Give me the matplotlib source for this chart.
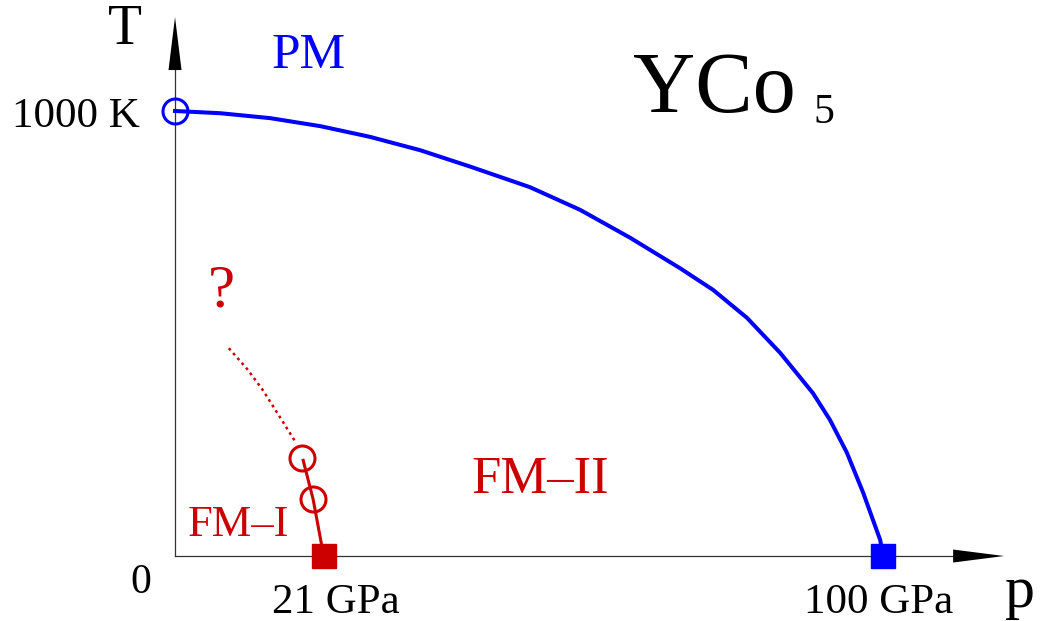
import matplotlib
matplotlib.use('Agg')
import matplotlib.pyplot as plt

plt.rcParams['font.family'] = ['Liberation Serif', 'DejaVu Serif']

BLUE = '#0000ff'
RED = '#cc0000'

# Curie line T_C(p) of the high-temperature ferromagnet (p in GPa, T in K)
tc_p = [0, 6.4, 13.4, 20.5, 27.5, 34.6, 41.7, 50.1, 57.2, 64.3, 71.3, 76.0,
        80.8, 85.5, 90.1, 92.5, 94.9, 97.2, 99.6, 100]
tc_T = [1000, 995, 984, 966, 942, 912, 875, 829, 778, 715, 647, 598,
        535, 456, 366, 306, 232, 142, 36, 0]

# FM-I / FM-II boundary: computed points and zero-temperature transition
fm_p = [17.9, 19.5]
fm_T = [220, 128]
fm_line_p = [18.1, 19.5, 21]
fm_line_T = [215, 128, 0]

# speculative continuation of the boundary
guess_p = [7.6, 10.2, 12.4, 14.9, 17.1]
guess_T = [467, 420, 373, 310, 254]

p_crit = [21, 100]
tc_zero = 1000

fig = plt.figure(figsize=(10.48, 6.21), dpi=100)
ax = fig.add_axes([0, 0, 1, 1])
ax.set_xlim(-24.72, 123.3)
ax.set_ylim(-146, 1249.4)
ax.set_axis_off()

# axes with arrow heads
ax.plot([0, 110], [0, 0], color='#333333', lw=0.9, zorder=1)
ax.plot([0, 0], [0, 1095], color='#333333', lw=0.9, zorder=1)
ax.fill([109.9, 117.1, 109.9], [-14.6, 0, 14.6], color='black', lw=0, zorder=2)
ax.fill([-0.92, 0, 0.92], [1092, 1211, 1092], color='black', lw=0, zorder=2)

# Curie line
ax.plot(tc_p, tc_T, color=BLUE, lw=2.9, zorder=3, solid_joinstyle='round')
ax.plot([0], [tc_zero], 'o', ms=18, mfc='none', mec=BLUE, mew=2.2, zorder=4)
ax.plot([p_crit[1]], [0], 's', ms=17, color=BLUE, zorder=5)

# FM-I / FM-II transition
ax.plot(guess_p, guess_T, color=RED, lw=1.8, ls=(0, (1.1, 1.5)), zorder=3)
ax.plot(fm_line_p, fm_line_T, color=RED, lw=2.2, zorder=3)
ax.plot(fm_p, fm_T, 'o', ms=18, mfc='none', mec=RED, mew=2.2, zorder=4)
ax.plot([p_crit[0]], [0], 's', ms=17, color=RED, zorder=5)

# labels
ax.text(-7.06, 1182, 'T', fontsize=40, ha='center', va='center')
ax.text(119.4, -115, 'p', fontsize=43, ha='center', va='baseline')
ax.text(-4.9, 964, '1000 K', fontsize=31, ha='right', va='baseline')
ax.text(-4.8, -83, '0', fontsize=30, ha='center', va='baseline')
ax.text(22.7, -128, '21 GPa', fontsize=31, ha='center', va='baseline')
ax.text(99.4, -128, '100 GPa', fontsize=31, ha='center', va='baseline')

ax.text(18.8, 1097, 'PM', fontsize=37, color=BLUE, ha='center', va='baseline')
ax.text(51.6, 142, 'FM–II', fontsize=38, color=RED, ha='center', va='baseline')
ax.text(8.9, 45, 'FM–I', fontsize=32, color=RED, ha='center', va='baseline')
ax.text(6.5, 560, '?', fontsize=44, color=RED, ha='center', va='baseline')

ax.text(64.7, 998, 'YCo', fontsize=62, ha='left', va='baseline')
ax.text(90.1, 973, '5', fontsize=30, ha='left', va='baseline')

fig.savefig('out.png', dpi=100)
